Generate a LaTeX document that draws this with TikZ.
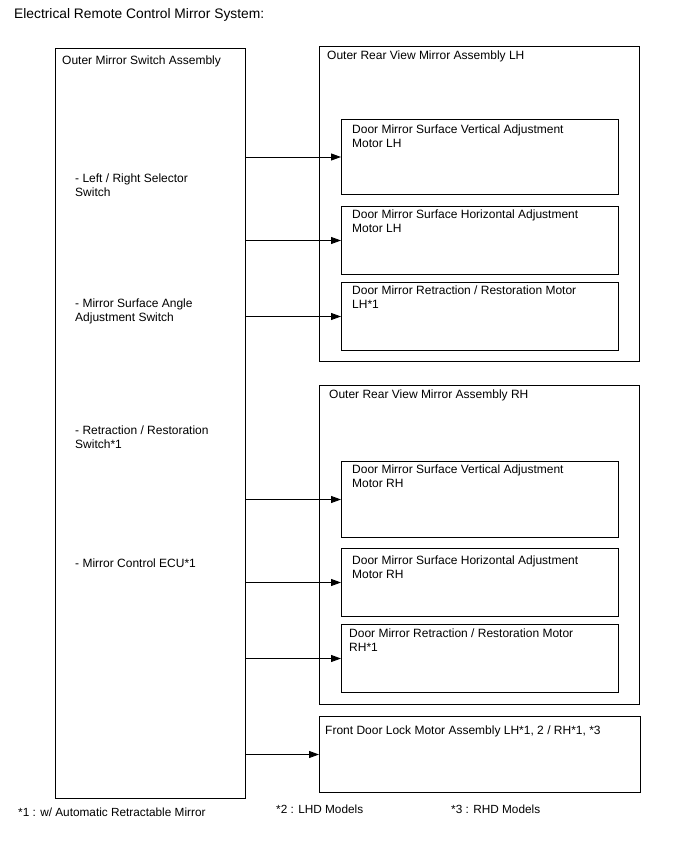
\documentclass[tikz,border=0pt]{standalone}
\usepackage{fontspec}
\setmainfont{Liberation Sans}
\usetikzlibrary{arrows.meta}

\tikzset{
  box/.style={draw, line width=1pt, anchor=north west, inner sep=0pt},
  txt/.style={anchor=north west, inner sep=0pt, align=left, font=\fontsize{12}{14}\selectfont},
  arr/.style={line width=0.9pt, -{Triangle[length=10pt,width=7pt]}}
}

\begin{document}
\begin{tikzpicture}[x=1pt, y=-1pt]
  \useasboundingbox (0,0) rectangle (688,852);

  \node[txt, font=\fontsize{13.8}{15}\selectfont] (title) at (14,8) {Electrical Remote Control Mirror System:};

  % switch assembly
  \node[box, minimum width=190pt, minimum height=750pt] (sw) at (55,48) {};
  \node[txt] (swname) at (62,56) {Outer Mirror Switch Assembly};
  \node[txt] (sel) at (75,174) {- Left / Right Selector\\Switch};
  \node[txt] (ang) at (75,299) {- Mirror Surface Angle\\Adjustment Switch};
  \node[txt] (ret) at (75,426) {- Retraction / Restoration\\Switch*1};
  \node[txt] (ecu) at (75,559) {- Mirror Control ECU*1};

  % LH mirror
  \node[box, minimum width=320pt, minimum height=315pt] (lh) at (319,46) {};
  \node[txt] (lhname) at (327,51) {Outer Rear View Mirror Assembly LH};
  \node[box, minimum width=277pt, minimum height=75pt] (lhv) at (341,119) {};
  \node[txt] (lhvt) at (352,125) {Door Mirror Surface Vertical Adjustment\\Motor LH};
  \node[box, minimum width=277pt, minimum height=68pt] (lhh) at (341,206) {};
  \node[txt] (lhht) at (352,210) {Door Mirror Surface Horizontal Adjustment\\Motor LH};
  \node[box, minimum width=277pt, minimum height=68pt] (lhr) at (341,282) {};
  \node[txt] (lhrt) at (352,286) {Door Mirror Retraction / Restoration Motor\\LH*1};

  % RH mirror
  \node[box, minimum width=320pt, minimum height=319pt] (rh) at (319,385) {};
  \node[txt] (rhname) at (329,390) {Outer Rear View Mirror Assembly RH};
  \node[box, minimum width=277pt, minimum height=76pt] (rhv) at (341,461) {};
  \node[txt] (rhvt) at (352,465) {Door Mirror Surface Vertical Adjustment\\Motor RH};
  \node[box, minimum width=277pt, minimum height=68pt] (rhh) at (341,548) {};
  \node[txt] (rhht) at (352,556) {Door Mirror Surface Horizontal Adjustment\\Motor RH};
  \node[box, minimum width=277pt, minimum height=68pt] (rhr) at (341,624) {};
  \node[txt] (rhrt) at (349,629) {Door Mirror Retraction / Restoration Motor\\RH*1};

  % door lock
  \node[box, minimum width=321pt, minimum height=76pt] (lock) at (319,716) {};
  \node[txt] (lockt) at (325,726) {Front Door Lock Motor Assembly LH*1, 2 / RH*1, *3};

  % connections
  \foreach \m in {lhv,lhh,lhr,rhv,rhh,rhr,lock} {
    \draw[arr] (sw.east |- \m.west) -- (\m.west);
  }

  % notes
  \node[txt, font=\fontsize{11.8}{13}\selectfont] (n1) at (18,808) {*1 : w/ Automatic Retractable Mirror};
  \node[txt, font=\fontsize{11.8}{13}\selectfont] (n2) at (276,805) {*2 : LHD Models};
  \node[txt, font=\fontsize{11.8}{13}\selectfont] (n3) at (451,805) {*3 : RHD Models};
\end{tikzpicture}
\end{document}
